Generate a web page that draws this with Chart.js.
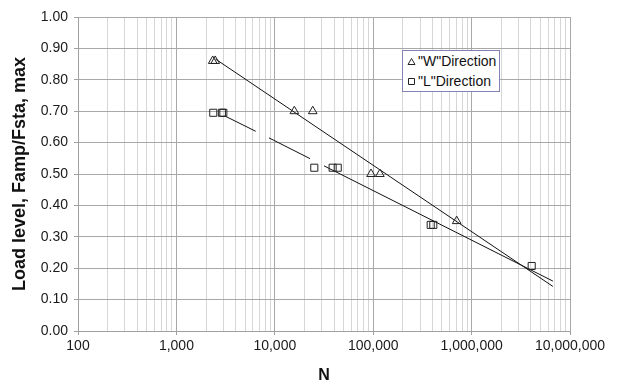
<!DOCTYPE html>
<html>
<head>
<meta charset="utf-8">
<script src="https://cdn.jsdelivr.net/npm/chart.js@4"></script>
<style>
  body { margin: 0; background: #fff; }
  #wrap { position: relative; width: 620px; height: 384px; }
  #legend {
    position: absolute; left: 402px; top: 50px; width: 96px; height: 40px;
    border: 1px solid #8282b4; background: #fff;
    font: 14px "Liberation Sans", Arial, sans-serif; color: #111;
  }
  #legend div { height: 20px; line-height: 20px; white-space: nowrap; padding-left: 4px; }
  #legend canvas { vertical-align: middle; margin-right: 2px; position: relative; top: -1px; }
</style>
</head>
<body>
<div id="wrap">
  <canvas id="myChart" width="620" height="384"></canvas>
  <div id="legend"></div>
</div>
<script>
// measured points
var wN = [2340, 2480, 15800, 24300, 95000, 117000, 705000];
var wLoad = [0.86, 0.86, 0.70, 0.70, 0.50, 0.50, 0.35];
var lN = [2370, 2900, 3000, 25200, 38700, 43600, 384000, 408000, 4080000];
var lLoad = [0.695, 0.695, 0.695, 0.52, 0.52, 0.52, 0.338, 0.338, 0.207];

// trend lines (null = break in the line)
var wTrendN = [2500, 6700000];
var wTrendLoad = [0.866, 0.142];
var lTrendN = [3100, 6400, 6500, 8730, 22800, 23000, 31600, 6700000];
var lTrendLoad = [0.685, 0.636, null, 0.615, 0.549, null, 0.526, 0.159];

var seriesNames = ['"W"Direction', '"L"Direction'];
var seriesMarks = ['triangle', 'rect'];
var xMajor = [100, 1000, 10000, 100000, 1000000, 10000000];
var yTicks = [0, 0.1, 0.2, 0.3, 0.4, 0.5, 0.6, 0.7, 0.8, 0.9, 1.0];

var font = '"Liberation Sans", Arial, sans-serif';

function pts(xs, ys) {
    return xs.map(function (x, i) { return { x: x, y: ys[i] }; });
}
function isMajor(v) {
    return xMajor.indexOf(v) >= 0;
}

new Chart("myChart", {
    type: "scatter",
    data: {
        datasets: [{
            label: seriesNames[0],
            data: pts(wN, wLoad),
            pointStyle: seriesMarks[0],
            pointRadius: 5,
            pointBackgroundColor: "rgba(255,255,255,0)",
            pointBorderColor: "#222",
            pointBorderWidth: 1
        }, {
            label: seriesNames[1],
            data: pts(lN, lLoad),
            pointStyle: seriesMarks[1],
            pointRadius: 5,
            pointBackgroundColor: "rgba(255,255,255,0)",
            pointBorderColor: "#222",
            pointBorderWidth: 1
        }, {
            label: "W trend",
            type: "line",
            data: pts(wTrendN, wTrendLoad),
            borderColor: "#111",
            borderWidth: 1,
            pointRadius: 0,
            fill: false
        }, {
            label: "L trend",
            type: "line",
            data: pts(lTrendN, lTrendLoad),
            borderColor: "#111",
            borderWidth: 1,
            pointRadius: 0,
            spanGaps: false,
            fill: false
        }]
    },
    options: {
        responsive: false,
        animation: false,
        devicePixelRatio: 1,
        layout: { padding: { left: 0, top: 17, right: 50, bottom: 0 } },
        plugins: {
            legend: { display: false },
            tooltip: { enabled: false }
        },
        scales: {
            x: {
                type: "logarithmic",
                min: 100,
                max: 10000000,
                afterFit: function (s) { s.height = 53; },
                afterBuildTicks: function (s) {
                    var t = [];
                    for (var i = 0; i < xMajor.length; i++) {
                        t.push({ value: xMajor[i], major: true });
                        if (i < xMajor.length - 1) {
                            for (var k = 2; k <= 9; k++) t.push({ value: xMajor[i] * k });
                        }
                    }
                    s.ticks = t;
                },
                border: { color: "#a0a0a0" },
                grid: {
                    color: function (c) { return isMajor(c.tick.value) ? "#a8a8a8" : "#d6d6d6"; },
                    tickColor: function (c) { return isMajor(c.tick.value) ? "#a0a0a0" : "rgba(0,0,0,0)"; },
                    tickLength: 4
                },
                ticks: {
                    autoSkip: false,
                    maxRotation: 0,
                    padding: 3,
                    color: "#1a1a1a",
                    font: { family: font, size: 14 },
                    callback: function (v) { return isMajor(v) ? v.toLocaleString("en-US") : ""; }
                },
                title: {
                    display: true,
                    text: "N",
                    color: "#111",
                    padding: { top: 0, bottom: 0 },
                    font: { family: font, size: 16, weight: "bold", lineHeight: 1 }
                }
            },
            y: {
                min: 0,
                max: 1,
                afterFit: function (s) { s.width = 78; },
                afterBuildTicks: function (s) {
                    s.ticks = yTicks.map(function (v) { return { value: v }; });
                },
                border: { color: "#a0a0a0" },
                grid: { color: "#a8a8a8", tickColor: "#a0a0a0", tickLength: 4 },
                ticks: {
                    padding: 6,
                    color: "#1a1a1a",
                    font: { family: font, size: 14 },
                    callback: function (v) { return v.toFixed(2); }
                },
                title: {
                    display: true,
                    text: "Load level, Famp/Fsta, max",
                    color: "#111",
                    padding: { top: 9, bottom: 0 },
                    font: { family: font, size: 18, weight: "bold" }
                }
            }
        }
    }
});

// legend box inside the plot
var legend = document.getElementById("legend");
seriesNames.forEach(function (name, i) {
    var row = document.createElement("div");
    var c = document.createElement("canvas");
    c.width = 9; c.height = 9;
    var g = c.getContext("2d");
    g.strokeStyle = "#222"; g.lineWidth = 1;
    g.beginPath();
    if (seriesMarks[i] === "triangle") {
        g.moveTo(4.5, 1.5); g.lineTo(8, 7.5); g.lineTo(1, 7.5); g.closePath();
    } else {
        g.rect(1.5, 1.5, 6, 6);
    }
    g.stroke();
    row.appendChild(c);
    row.appendChild(document.createTextNode(name));
    legend.appendChild(row);
});
</script>
</body>
</html>
